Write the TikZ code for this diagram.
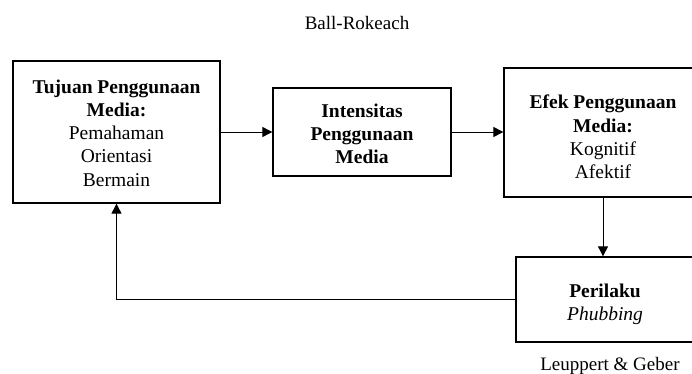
\documentclass[tikz,border=0pt]{standalone}
\usepackage{fontspec}
\setmainfont{Liberation Serif}
\usetikzlibrary{arrows.meta}
\begin{document}
\begin{tikzpicture}[x=1pt,y=-1pt,
  box/.style={draw,line width=1.3pt,rectangle,inner sep=0pt},
  txt/.style={align=center,inner sep=0pt,font=\fontsize{19.5}{23.3}\selectfont},
  lbl/.style={inner sep=0pt,font=\fontsize{19}{23}\selectfont},
  conn/.style={line width=0.9pt,-{Triangle[length=10pt,width=10pt]}}]
\useasboundingbox (0,0) rectangle (692,374);
\clip (0,0) rectangle (692,374);
\node[box,minimum width=207pt,minimum height=142pt] (tuj) at (116.5,132) {};
\node[txt] (tujt) at ([yshift=-1pt]tuj.center)
  {\textbf{Tujuan Penggunaan}\\\textbf{Media:}\\Pemahaman\\Orientasi\\Bermain};
\node[box,minimum width=178pt,minimum height=88pt] (int) at (362,132) {};
\node[txt] (intt) at ([yshift=-2pt]int.center)
  {\textbf{Intensitas}\\\textbf{Penggunaan}\\\textbf{Media}};
\node[box,minimum width=198pt,minimum height=129pt] (efek) at (603,132.5) {};
\node[txt] (efekt) at ([yshift=-4.5pt]efek.center)
  {\textbf{Efek Penggunaan}\\\textbf{Media:}\\Kognitif\\Afektif};
\node[box,minimum width=178pt,minimum height=85pt] (per) at (605,299.5) {};
\node[txt] (pert) at ([yshift=-4.5pt]per.center)
  {\textbf{Perilaku}\\\textit{Phubbing}};
\node[lbl] (ball) at (357,23) {Ball-Rokeach};
\node[lbl] (leu) at (610,366) {Leuppert \& Geber};
\draw[conn] (tuj.east) -- (int.west);
\draw[conn] (int.east) -- (int.east -| efek.west);
\draw[conn] (efek.south) -- (efek.south |- per.north);
\draw[conn] (per.west) -- (per.west -| tuj.south) -- (tuj.south);
\end{tikzpicture}
\end{document}
